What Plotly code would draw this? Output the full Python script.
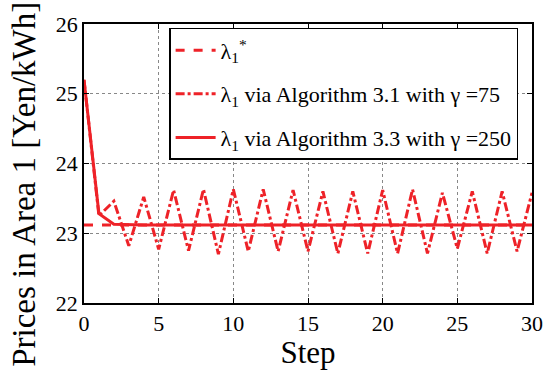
import plotly.graph_objects as go

steps = list(range(0, 31))
lambda_star = [23.12] * 31
alg31 = [25.2, 23.25, 23.46, 22.82, 23.52, 22.77, 23.62, 22.75, 23.63, 22.70,
         23.63, 22.74, 23.63, 22.74, 23.62, 22.74, 23.60, 22.71, 23.60, 22.71,
         23.62, 22.71, 23.63, 22.71, 23.58, 22.78, 23.60, 22.71, 23.60, 22.74, 23.58]
alg33 = [25.2, 23.28, 23.13] + [23.12] * 28

red = "#ee2228"
font = "Liberation Serif, Times New Roman, serif"

fig = go.Figure()
fig.add_trace(go.Scatter(x=steps, y=lambda_star, mode="lines",
                         name="λ<sub>1</sub><sup>*</sup>", legendgroup="a",
                         line=dict(color=red, width=3, dash="dash")))
fig.add_trace(go.Scatter(x=steps, y=alg31, mode="lines",
                         name="λ<sub>1</sub> via Algorithm 3.1 with γ =75", legendgroup="b",
                         line=dict(color=red, width=3, dash="dashdot")))
fig.add_trace(go.Scatter(x=steps, y=alg33, mode="lines",
                         name="λ<sub>1</sub> via Algorithm 3.3 with γ =250", legendgroup="c",
                         line=dict(color=red, width=3, dash="solid")))

axis_common = dict(showline=True, linecolor="black", linewidth=1.5, mirror="ticks",
                   ticks="inside", ticklen=5, tickcolor="black",
                   showgrid=True, gridcolor="#888888", griddash="dot", gridwidth=1,
                   zeroline=False, tickfont=dict(family=font, size=22, color="black"))

fig.update_layout(
    width=555, height=370,
    margin=dict(l=84, r=13, t=20, b=63),
    plot_bgcolor="white", paper_bgcolor="white",
    font=dict(family=font, color="black"),
    xaxis=dict(range=[0, 30], tickvals=[0, 5, 10, 15, 20, 25, 30],
               title=dict(text="Step", font=dict(family=font, size=31), standoff=0),
               **axis_common),
    yaxis=dict(range=[22, 26], tickvals=[22, 23, 24, 25, 26], **axis_common),
    legend=dict(x=0.19, y=0.986, xanchor="left", yanchor="top",
                bordercolor="black", borderwidth=1.5, bgcolor="white",
                font=dict(family=font, size=22, color="black"),
                tracegroupgap=12, itemwidth=40,
                entrywidth=358, entrywidthmode="pixels"),
    showlegend=True,
    annotations=[dict(text="Prices in Area 1 [Yen/kWh]", textangle=-90,
                      xref="paper", yref="paper", x=-0.133, y=0.425,
                      xanchor="center", yanchor="middle", showarrow=False,
                      font=dict(family=font, size=33, color="black"))],
)

fig.write_html("out.html")
